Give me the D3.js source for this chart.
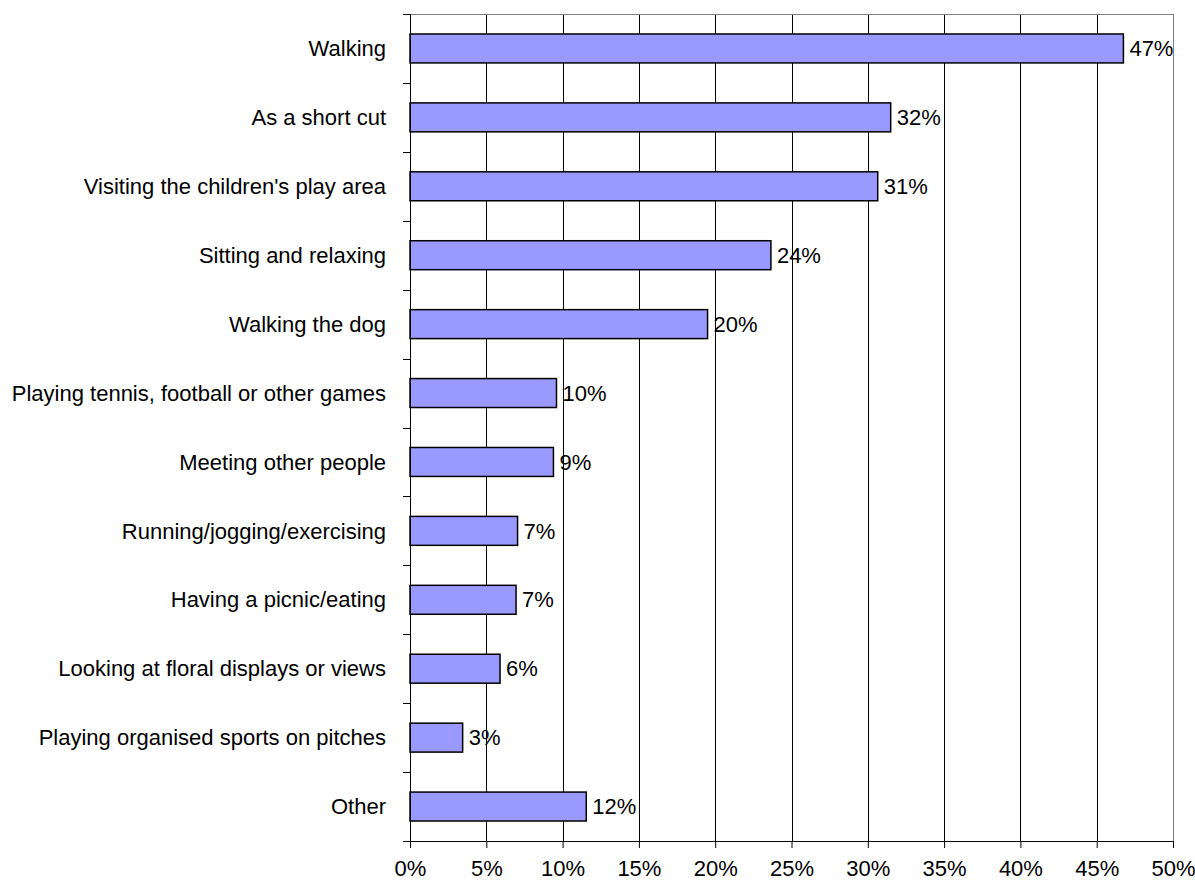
<!DOCTYPE html>
<html><head><meta charset="utf-8">
<script src="https://d3js.org/d3.v7.min.js"></script>
<style>body{margin:0;background:#fff}svg{display:block}text{font-family:"Liberation Sans",Arial,sans-serif;fill:#000}</style>
</head><body><svg id="c" width="1195" height="881"></svg>
<script>
const categories = ["Walking","As a short cut","Visiting the children's play area","Sitting and relaxing","Walking the dog","Playing tennis, football or other games","Meeting other people","Running/jogging/exercising","Having a picnic/eating","Looking at floral displays or views","Playing organised sports on pitches","Other"];
const values = [46.75,31.5,30.65,23.65,19.5,9.6,9.4,7.05,6.95,5.9,3.45,11.55];
const valueLabels = ["47%","32%","31%","24%","20%","10%","9%","7%","7%","6%","3%","12%"];
const xTicks = [0,5,10,15,20,25,30,35,40,45,50];

const FS = 22;
const svg = d3.select("#c");
const L = 410, R = 1173, T = 14, B = 841;
const x = d3.scaleLinear().domain([0,50]).range([L,R]);
const y = d3.scaleBand().domain(categories).range([T,B]).paddingInner(0.58).paddingOuter(0.29);
const yb = d3.scaleBand().domain(categories).range([T,B]);

// gridlines
svg.append("g").selectAll("line").data(xTicks.slice(1)).join("line")
  .attr("x1",d=>Math.round(x(d))+0.5).attr("x2",d=>Math.round(x(d))+0.5)
  .attr("y1",T).attr("y2",B).attr("stroke",(d,i)=>d===50?"#808080":"#000").attr("stroke-width",1);
// top border
svg.append("line").attr("x1",L).attr("x2",R).attr("y1",T+0.5).attr("y2",T+0.5).attr("stroke","#808080");

// bars
svg.append("g").selectAll("rect").data(values).join("rect")
  .attr("x",x(0)).attr("y",(d,i)=>y(categories[i]))
  .attr("width",d=>x(d)-x(0)).attr("height",y.bandwidth())
  .attr("fill","#9999FF").attr("stroke","#000").attr("stroke-width",1.5);

// value labels
svg.append("g").selectAll("text").data(values).join("text")
  .attr("x",d=>x(d)+6).attr("y",(d,i)=>y(categories[i])+y.bandwidth()/2)
  .attr("dy","0.35em").attr("font-size",FS).text((d,i)=>valueLabels[i]);

// y axis
const yAxis = svg.append("g");
yAxis.append("line").attr("x1",L+0.5).attr("x2",L+0.5).attr("y1",T).attr("y2",B).attr("stroke","#000");
const bounds = categories.map(c=>yb(c)).concat([B]);
yAxis.selectAll("line.t").data(bounds).join("line").attr("class","t")
  .attr("x1",L-7).attr("x2",L).attr("y1",d=>Math.round(d)+0.5).attr("y2",d=>Math.round(d)+0.5).attr("stroke","#000");
yAxis.selectAll("text").data(categories).join("text")
  .attr("x",L-24).attr("y",d=>yb(d)+yb.bandwidth()/2).attr("dy","0.35em")
  .attr("text-anchor","end").attr("font-size",FS).text(d=>d);

// x axis
const xAxis = d3.axisBottom(x).tickValues(xTicks).tickFormat(d=>d+"%").tickSize(7).tickPadding(12);
const gx = svg.append("g").attr("transform",`translate(0,${B})`).call(xAxis);
gx.select(".domain").attr("stroke","#000").attr("d",`M${L-7},0.5H${R}`);
gx.selectAll(".tick line").attr("stroke","#000");
gx.selectAll(".tick text").attr("font-size",FS).attr("font-family","Liberation Sans, Arial, sans-serif");
</script></body></html>
